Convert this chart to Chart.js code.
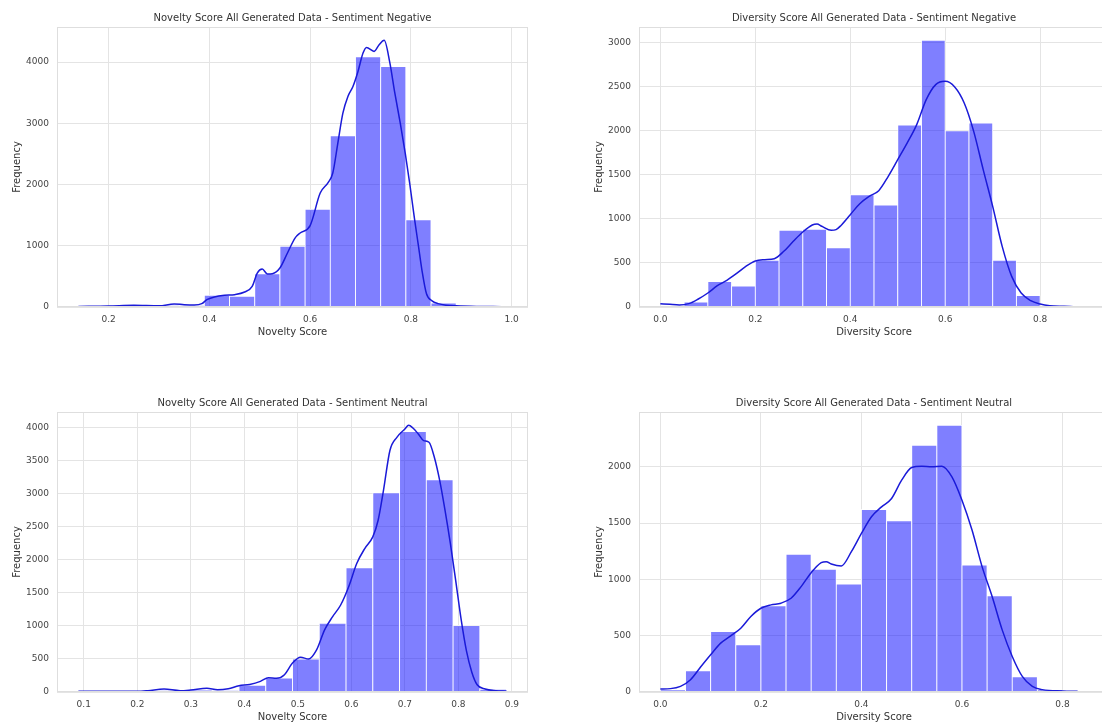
<!DOCTYPE html>
<html>
<head>
<meta charset="utf-8">
<script src="https://cdn.jsdelivr.net/npm/chart.js@4.4.1/dist/chart.umd.min.js"></script>
<style>
  html, body { margin: 0; padding: 0; background: #fff; width: 1102px; height: 722px; overflow: hidden; position: relative; }
  .panel { position: absolute; }
</style>
</head>
<body>
<div class="panel" style="left:0;top:0"><canvas id="novNeg" width="551" height="361"></canvas></div>
<div class="panel" style="left:551px;top:0"><canvas id="divNeg" width="558" height="361"></canvas></div>
<div class="panel" style="left:0;top:385px"><canvas id="novNeu" width="551" height="361"></canvas></div>
<div class="panel" style="left:551px;top:385px"><canvas id="divNeu" width="558" height="361"></canvas></div>
<script>
// --- Novelty, sentiment negative ---
var novNegEdges = [0.14, 0.19, 0.24, 0.29, 0.34, 0.39, 0.44, 0.49, 0.54, 0.59, 0.64, 0.69, 0.74, 0.79, 0.84, 0.89, 0.94, 0.99];
var novNegCounts = [10, 8, 18, 22, 25, 190, 174, 544, 991, 1595, 2797, 4087, 3929, 1426, 65, 12, 6];
var novNegKdeX = [0.14, 0.2, 0.25, 0.3, 0.33, 0.35, 0.37, 0.385, 0.395, 0.41, 0.43, 0.45, 0.47, 0.485, 0.495, 0.505, 0.515, 0.525, 0.54, 0.555, 0.57, 0.58, 0.6, 0.62, 0.636, 0.645, 0.655, 0.665, 0.675, 0.685, 0.695, 0.705, 0.712, 0.727, 0.737, 0.747, 0.758, 0.768, 0.779, 0.789, 0.798, 0.807, 0.815, 0.822, 0.831, 0.842, 0.854, 0.87, 0.89, 0.93, 0.98];
var novNegKdeY = [10, 15, 28, 20, 49, 38, 33, 54, 120, 163, 190, 201, 245, 337, 555, 620, 539, 544, 637, 882, 1126, 1208, 1330, 1861, 2035, 2188, 2677, 3167, 3439, 3602, 3847, 4147, 4239, 4174, 4283, 4355, 4000, 3500, 3000, 2500, 2000, 1450, 1000, 600, 215, 100, 55, 30, 20, 10, 5];
var novNegTicksX = [0.2, 0.4, 0.6, 0.8, 1.0];
var novNegTicksY = [0, 1000, 2000, 3000, 4000];

// --- Diversity, sentiment negative ---
var divNegEdges = [0, 0.05, 0.1, 0.15, 0.2, 0.25, 0.3, 0.35, 0.4, 0.45, 0.5, 0.55, 0.6, 0.65, 0.7, 0.75, 0.8, 0.85, 0.9];
var divNegCounts = [12, 57, 288, 239, 530, 871, 882, 674, 1276, 1159, 2068, 3030, 2003, 2091, 530, 129, 8, 3];
var divNegKdeX = [0, 0.02, 0.04, 0.06, 0.08, 0.1, 0.12, 0.14, 0.16, 0.18, 0.2, 0.22, 0.24, 0.26, 0.28, 0.3, 0.32, 0.33, 0.34, 0.36, 0.37, 0.38, 0.4, 0.42, 0.44, 0.46, 0.48, 0.5, 0.52, 0.54, 0.56, 0.58, 0.6, 0.62, 0.64, 0.66, 0.68, 0.7, 0.72, 0.74, 0.76, 0.78, 0.8, 0.82, 0.85, 0.87];
var divNegKdeY = [38, 30, 23, 38, 91, 159, 242, 303, 379, 462, 523, 538, 549, 633, 746, 852, 932, 943, 917, 871, 879, 924, 1049, 1174, 1258, 1322, 1485, 1674, 1864, 2072, 2356, 2527, 2564, 2500, 2318, 1996, 1561, 1144, 689, 348, 159, 72, 34, 15, 8, 4];
var divNegTicksX = [0, 0.2, 0.4, 0.6, 0.8];
var divNegTicksY = [0, 500, 1000, 1500, 2000, 2500, 3000];

// --- Novelty, sentiment neutral ---
var novNeuEdges = [0.09, 0.14, 0.19, 0.24, 0.29, 0.34, 0.39, 0.44, 0.49, 0.54, 0.59, 0.64, 0.69, 0.74, 0.79, 0.84, 0.89];
var novNeuCounts = [3, 5, 8, 20, 30, 20, 100, 211, 497, 1039, 1877, 3012, 3936, 3208, 1004, 40];
var novNeuKdeX = [0.09, 0.2, 0.22, 0.25, 0.28, 0.3, 0.33, 0.35, 0.37, 0.39, 0.41, 0.43, 0.445, 0.46, 0.475, 0.49, 0.505, 0.52, 0.535, 0.55, 0.565, 0.58, 0.595, 0.61, 0.625, 0.64, 0.65, 0.66, 0.672, 0.685, 0.7, 0.707, 0.715, 0.725, 0.735, 0.745, 0.755, 0.765, 0.775, 0.785, 0.795, 0.805, 0.815, 0.825, 0.835, 0.85, 0.87, 0.89];
var novNeuKdeY = [10, 10, 20, 45, 20, 30, 55, 35, 50, 95, 115, 160, 216, 206, 261, 437, 527, 497, 637, 939, 1140, 1315, 1591, 1942, 2168, 2344, 2595, 3047, 3650, 3849, 3975, 4030, 3990, 3900, 3799, 3774, 3548, 3197, 2745, 2243, 1680, 1100, 620, 300, 110, 45, 20, 12];
var novNeuTicksX = [0.1, 0.2, 0.3, 0.4, 0.5, 0.6, 0.7, 0.8, 0.9];
var novNeuTicksY = [0, 500, 1000, 1500, 2000, 2500, 3000, 3500, 4000];

// --- Diversity, sentiment neutral ---
var divNeuEdges = [0, 0.05, 0.1, 0.15, 0.2, 0.25, 0.3, 0.35, 0.4, 0.45, 0.5, 0.55, 0.6, 0.65, 0.7, 0.75, 0.8, 0.85];
var divNeuCounts = [20, 189, 538, 419, 765, 1223, 1090, 960, 1622, 1521, 2192, 2369, 1128, 854, 136, 20, 5];
var divNeuKdeX = [0, 0.02, 0.04, 0.06, 0.08, 0.1, 0.12, 0.14, 0.16, 0.18, 0.2, 0.22, 0.24, 0.26, 0.28, 0.3, 0.32, 0.33, 0.34, 0.36, 0.38, 0.4, 0.42, 0.44, 0.46, 0.48, 0.5, 0.52, 0.54, 0.56, 0.58, 0.6, 0.62, 0.64, 0.66, 0.68, 0.7, 0.72, 0.74, 0.76, 0.8, 0.83];
var divNeuKdeY = [27, 30, 50, 109, 222, 331, 434, 499, 567, 671, 744, 774, 789, 833, 936, 1060, 1149, 1158, 1137, 1120, 1247, 1409, 1557, 1645, 1719, 1882, 1994, 2006, 2000, 2006, 1911, 1704, 1439, 1114, 848, 552, 316, 139, 50, 21, 9, 6];
var divNeuTicksX = [0, 0.2, 0.4, 0.6, 0.8];
var divNeuTicksY = [0, 500, 1000, 1500, 2000];

Chart.defaults.font.family = "'DejaVu Sans', sans-serif";
Chart.defaults.color = '#444';

// matplotlib-like frame around the plot + title centred over the axes
var framePlugin = {
  id: 'frame',
  afterDatasetsDraw: function (chart, args, opts) {
    var a = chart.chartArea;
    var ctx = chart.ctx;
    ctx.save();
    ctx.strokeStyle = '#dedede';
    ctx.lineWidth = 1;
    ctx.strokeRect(a.left + 0.5, a.top + 0.5, a.right - a.left - 1, a.bottom - a.top - 1);
    ctx.fillStyle = '#333';
    ctx.font = "10px 'DejaVu Sans', sans-serif";
    ctx.textAlign = 'center';
    ctx.textBaseline = 'middle';
    ctx.fillText(opts.text, (a.left + a.right) / 2, 18);
    ctx.restore();
  }
};

function makeHist(id, cfg) {
  var bars = [];
  for (var i = 0; i < cfg.counts.length; i++) {
    bars.push({ x: (cfg.edges[i] + cfg.edges[i + 1]) / 2, y: cfg.counts[i] });
  }
  var kde = cfg.kdeX.map(function (x, i) { return { x: x, y: cfg.kdeY[i] }; });

  var lo = cfg.edges[0];
  var hi = cfg.edges[cfg.edges.length - 1];
  var pad = (hi - lo) * 0.05;
  var yMax = Math.max.apply(null, cfg.counts.concat(cfg.kdeY)) * 1.05;

  new Chart(document.getElementById(id), {
    type: 'bar',
    data: {
      datasets: [{
        type: 'line',
        data: kde,
        borderColor: '#1a1ad8',
        borderWidth: 1.5,
        pointRadius: 0,
        cubicInterpolationMode: 'monotone',
        order: 0
      }, {
        type: 'bar',
        data: bars,
        backgroundColor: 'rgba(0,0,255,0.5)',
        borderColor: '#ffffff',
        borderWidth: 0.8,
        barPercentage: 1,
        categoryPercentage: 1,
        order: 1
      }]
    },
    plugins: [framePlugin],
    options: {
      responsive: false,
      animation: false,
      layout: { padding: { top: 27, right: cfg.padRight, left: 0, bottom: 0 } },
      plugins: {
        legend: { display: false },
        tooltip: { enabled: false },
        frame: { text: cfg.title }
      },
      scales: {
        x: {
          type: 'linear',
          offset: false,
          min: lo - pad,
          max: hi + pad,
          grid: { color: '#e4e4e4', lineWidth: 1, drawTicks: false, offset: false },
          border: { display: false },
          afterBuildTicks: function (s) { s.ticks = cfg.ticksX.map(function (v) { return { value: v }; }); },
          afterFit: function (s) { s.height = 54; },
          ticks: {
            padding: 7,
            font: { size: 9 },
            color: '#444',
            maxRotation: 0,
            callback: function (v) { return Number(v).toFixed(1); }
          },
          title: { display: true, text: cfg.xLabel, color: '#333', font: { size: 10 }, padding: { top: 0, bottom: 23 } }
        },
        y: {
          min: 0,
          max: yMax,
          grid: { color: '#e4e4e4', lineWidth: 1, drawTicks: false },
          border: { display: false },
          afterBuildTicks: function (s) { s.ticks = cfg.ticksY.map(function (v) { return { value: v }; }); },
          afterFit: function (s) { s.width = cfg.yAxisWidth; },
          ticks: {
            padding: 8,
            font: { size: 9 },
            color: '#444',
            callback: function (v) { return String(v); }
          },
          title: { display: true, text: 'Frequency', color: '#333', font: { size: 10 }, padding: { top: cfg.yTitlePad, bottom: 0 } }
        }
      }
    }
  });
}

makeHist('novNeg', {
  title: 'Novelty Score All Generated Data - Sentiment Negative', xLabel: 'Novelty Score',
  edges: novNegEdges, counts: novNegCounts, kdeX: novNegKdeX, kdeY: novNegKdeY,
  ticksX: novNegTicksX, ticksY: novNegTicksY, yAxisWidth: 57, yTitlePad: 11.5, padRight: 23
});
makeHist('divNeg', {
  title: 'Diversity Score All Generated Data - Sentiment Negative', xLabel: 'Diversity Score',
  edges: divNegEdges, counts: divNegCounts, kdeX: divNegKdeX, kdeY: divNegKdeY,
  ticksX: divNegTicksX, ticksY: divNegTicksY, yAxisWidth: 88, yTitlePad: 42, padRight: 0
});
makeHist('novNeu', {
  title: 'Novelty Score All Generated Data - Sentiment Neutral', xLabel: 'Novelty Score',
  edges: novNeuEdges, counts: novNeuCounts, kdeX: novNeuKdeX, kdeY: novNeuKdeY,
  ticksX: novNeuTicksX, ticksY: novNeuTicksY, yAxisWidth: 57, yTitlePad: 11.5, padRight: 23
});
makeHist('divNeu', {
  title: 'Diversity Score All Generated Data - Sentiment Neutral', xLabel: 'Diversity Score',
  edges: divNeuEdges, counts: divNeuCounts, kdeX: divNeuKdeX, kdeY: divNeuKdeY,
  ticksX: divNeuTicksX, ticksY: divNeuTicksY, yAxisWidth: 88, yTitlePad: 42, padRight: 0
});
</script>
</body>
</html>
